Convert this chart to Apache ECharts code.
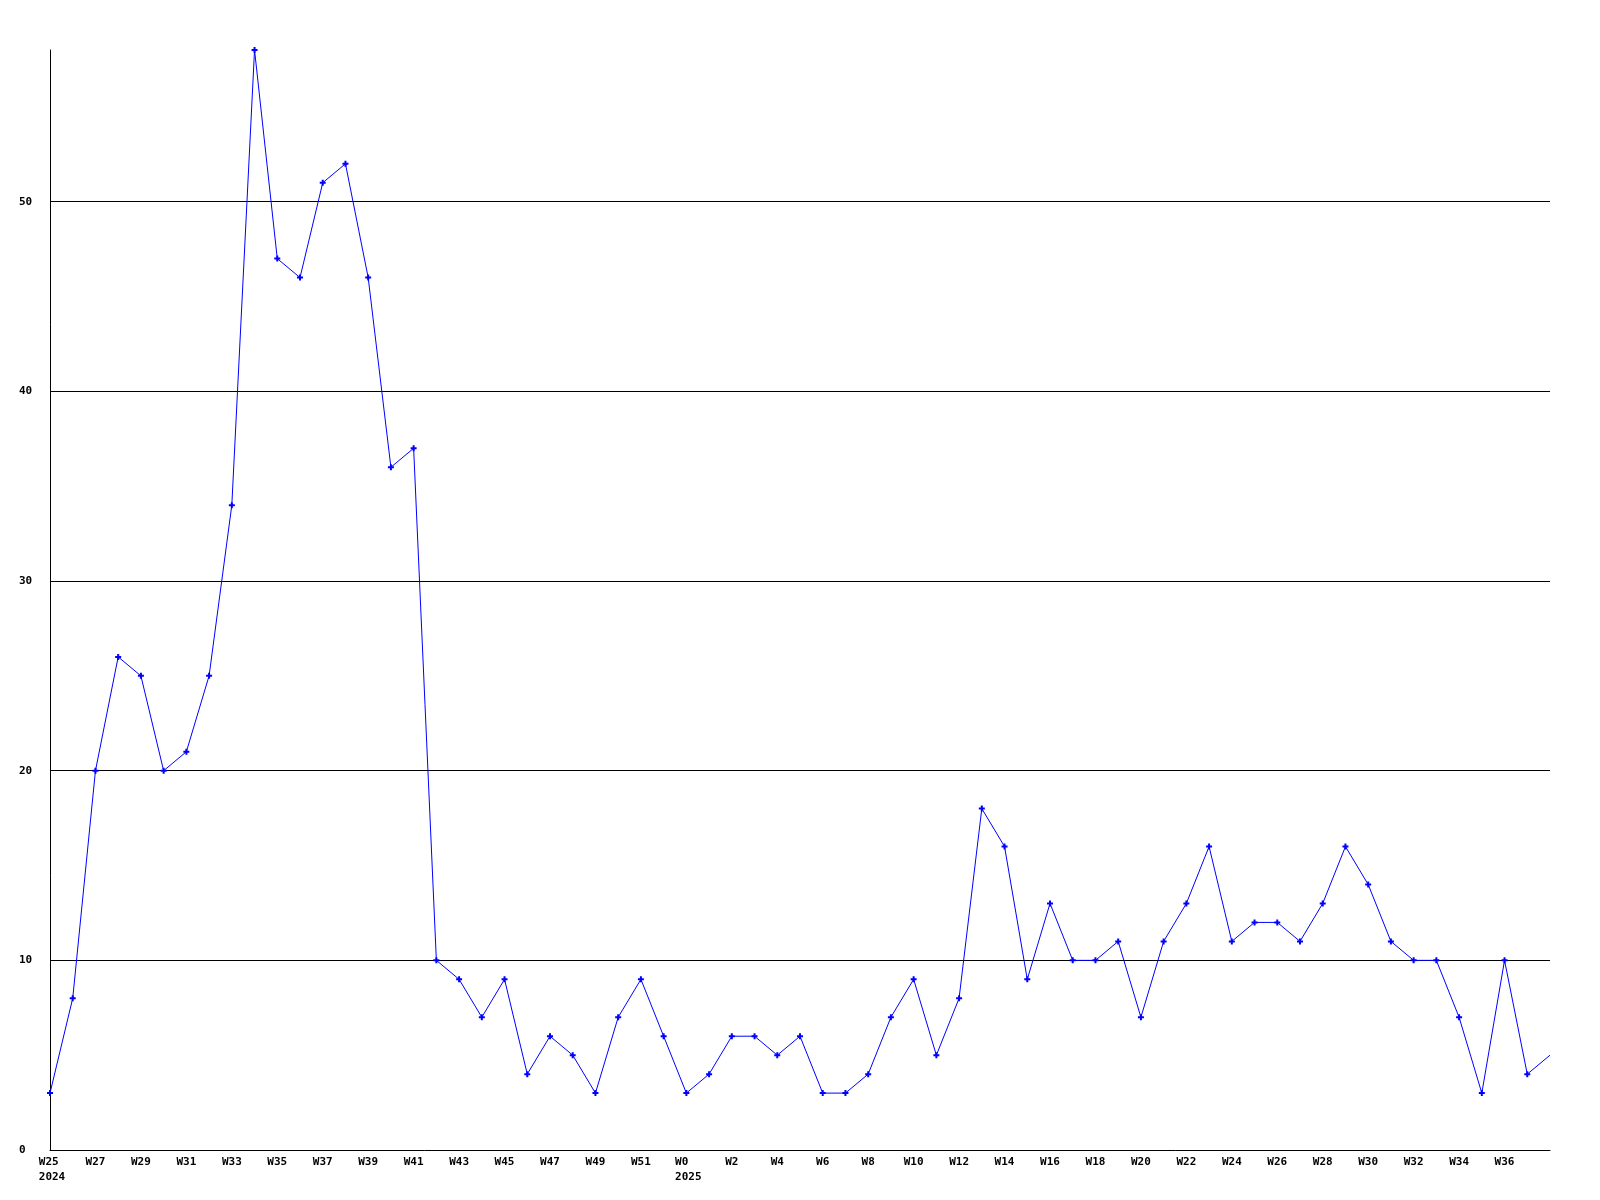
<!DOCTYPE html>
<html>
<head>
<meta charset="utf-8">
<script src="https://cdn.jsdelivr.net/npm/echarts@6/dist/echarts.min.js"></script>
<style>
html,body{margin:0;padding:0;background:#fff;}
#c{width:1600px;height:1200px;}
</style>
</head>
<body>
<div id="c"></div>
<script>
// Week labels (2024 W25..W52, 2025 W0..W38)
const weeks = [
  'W25','W26','W27','W28','W29','W30','W31','W32','W33','W34','W35','W36','W37','W38',
  'W39','W40','W41','W42','W43','W44','W45','W46','W47','W48','W49','W50','W51','W52',
  'W0','W1','W2','W3','W4','W5','W6','W7','W8','W9','W10','W11','W12','W13','W14','W15',
  'W16','W17','W18','W19','W20','W21','W22','W23','W24','W25','W26','W27','W28','W29',
  'W30','W31','W32','W33','W34','W35','W36','W37','W38'
];
const yearIndex = [0, 28];
const yearText = ['2024', '2025'];
const values = [
  3, 8, 20, 26, 25, 20, 21, 25, 34, 58, 47, 46, 51, 52,
  46, 36, 37, 10, 9, 7, 9, 4, 6, 5, 3, 7, 9, 6,
  3, 4, 6, 6, 5, 6, 3, 3, 4, 7, 9, 5, 8, 18, 16, 9,
  13, 10, 10, 11, 7, 11, 13, 16, 11, 12, 12, 11, 13, 16,
  14, 11, 10, 10, 7, 3, 10, 4, 5
];
const yTicks = [0, 10, 20, 30, 40, 50];

const chart = echarts.init(document.getElementById('c'));
const lastIdx = values.length - 1;
const seriesData = values.map((v, i) => i === lastIdx ? { value: v, symbol: 'none' } : v);
const font = '"DejaVu Sans Mono", "Liberation Mono", monospace';

chart.setOption({
  animation: false,
  backgroundColor: '#ffffff',
  grid: { left: 50, right: 50, top: 50, bottom: 50, containLabel: false },
  xAxis: {
    type: 'category',
    data: weeks,
    boundaryGap: false,
    axisLine: { show: true, lineStyle: { color: '#000', width: 1 } },
    axisTick: { show: false },
    splitLine: { show: false },
    axisLabel: {
      interval: (i) => i % 2 === 0 && i < weeks.length - 1,
      margin: 5,
      color: '#000',
      fontFamily: font,
      fontWeight: 'bold',
      fontSize: 11,
      lineHeight: 15,
      formatter: (val, idx) => {
        const k = yearIndex.indexOf(idx);
        if (k >= 0) return '{a|' + val + '}\n{a|' + yearText[k] + '}';
        return val;
      },
      rich: {
        a: {
          fontFamily: font, fontWeight: 'bold', fontSize: 11, lineHeight: 15,
          color: '#000', align: 'left', padding: [0, 0, 0, 4]
        }
      }
    }
  },
  yAxis: {
    type: 'value',
    min: 0,
    max: 58,
    interval: 10,
    axisLine: { show: true, lineStyle: { color: '#000', width: 1 } },
    axisTick: { show: false },
    splitLine: { show: true, showMaxLine: false, showMinLine: false, lineStyle: { color: '#000', width: 1 } },
    axisLabel: {
      align: 'left',
      margin: 31,
      color: '#000',
      fontFamily: font,
      fontWeight: 'bold',
      fontSize: 11,
      showMaxLabel: false,
      formatter: (v) => yTicks.indexOf(v) >= 0 ? String(v) : ''
    }
  },
  series: [{
    type: 'line',
    data: seriesData,
    symbol: 'path://M2,0h2v2h2v2h-2v2h-2v-2h-2v-2h2z',
    symbolSize: 6,
    showSymbol: true,
    lineStyle: { color: '#0000ff', width: 1 },
    itemStyle: { color: '#0000ff' },
    clip: false
  }]
});
</script>
</body>
</html>
